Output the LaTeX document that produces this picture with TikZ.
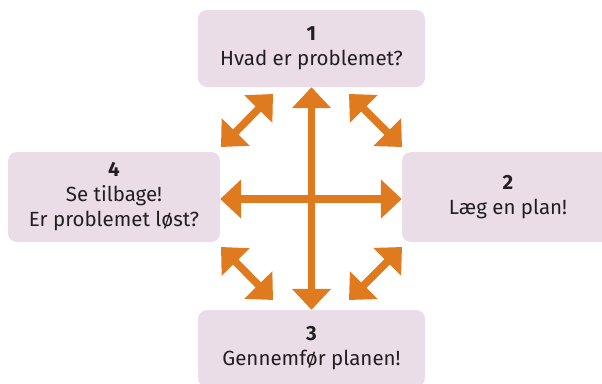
\documentclass[tikz,border=0pt]{standalone}
\usepackage{fontspec}
\setmainfont{Fira Sans}
\usepackage{xcolor}
\usetikzlibrary{arrows.meta}
\definecolor{boxfill}{HTML}{EADDE8}
\definecolor{arrorange}{HTML}{E07A1E}
\definecolor{txt}{HTML}{231F20}

\begin{document}
\begin{tikzpicture}[x=1pt,y=-1pt,>={Triangle[width=38pt,length=21pt]},
  font=\fontsize{20.5}{25}\selectfont,
  stepbox/.style={fill=boxfill,rounded corners=9pt,text=txt,align=center,
    inner sep=0pt,minimum width=227pt,minimum height=77pt},
  sidebox/.style={stepbox,minimum width=212pt,minimum height=90pt},
  twoway/.style={<->,line width=7.5pt,arrorange}]
  \useasboundingbox (0,0) rectangle (602,383);
  % the four steps
  \node[stepbox] (p1) at (311.5,48.5) {\textbf{1}\\Hvad er problemet?};
  \node[sidebox] (p2) at (508,197) {\textbf{2}\\Læg en plan!};
  \node[stepbox] (p3) at (311.5,348.5) {\textbf{3}\\Gennemfør planen!};
  \node[sidebox] (p4) at (114,197) {\textbf{4}\\Se tilbage!\\Er problemet løst?};
  % cross
  \draw[twoway] (p1.south) -- (p3.north);
  \draw[twoway] ([yshift=-2pt]p4.east) -- ([yshift=-2pt]p2.west);
  % corner arrows
  \foreach \i/\fx/\fy/\tx/\ty in {1/221/147/273/94,2/349/94/402/147,
      3/221/247/273/300,4/349/300/402/247}{
    \coordinate (d\i s) at (\fx,\fy);
    \coordinate (d\i e) at (\tx,\ty);
    \draw[twoway] (d\i s) -- (d\i e);
  }
\end{tikzpicture}
\end{document}
